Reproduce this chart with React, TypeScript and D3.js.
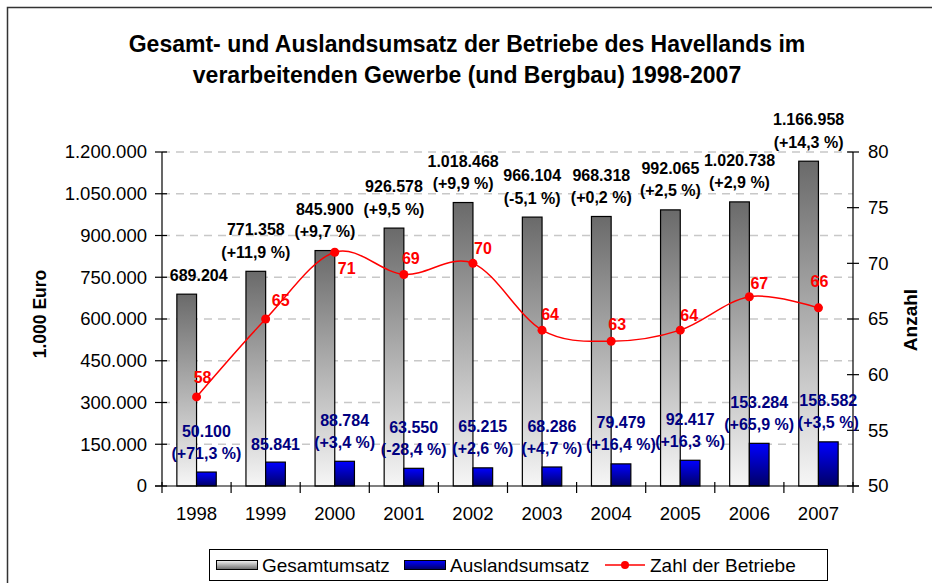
import React from 'react';
import * as d3 from 'd3';

const years = ['1998', '1999', '2000', '2001', '2002', '2003', '2004', '2005', '2006', '2007'];
const gesamtumsatz = [689204, 771358, 845900, 926578, 1018468, 966104, 968318, 992065, 1020738, 1166958];
const gesamtChange = ['', '(+11,9 %)', '(+9,7 %)', '(+9,5 %)', '(+9,9 %)', '(-5,1 %)', '(+0,2 %)', '(+2,5 %)', '(+2,9 %)', '(+14,3 %)'];
const auslandsumsatz = [50100, 85841, 88784, 63550, 65215, 68286, 79479, 92417, 153284, 158582];
const auslandChange = ['(+71,3 %)', '', '(+3,4 %)', '(-28,4 %)', '(+2,6 %)', '(+4,7 %)', '(+16,4 %)', '(+16,3 %)', '(+65,9 %)', '(+3,5 %)'];
const betriebe = [58, 65, 71, 69, 70, 64, 63, 64, 67, 66];
const leftTicks = [0, 150000, 300000, 450000, 600000, 750000, 900000, 1050000, 1200000];
const rightTicks = [50, 55, 60, 65, 70, 75, 80];
const titleLines = [
  'Gesamt- und Auslandsumsatz der Betriebe des Havellands im',
  'verarbeitenden Gewerbe (und Bergbau) 1998-2007',
];
const legendLabels = ['Gesamtumsatz', 'Auslandsumsatz', 'Zahl der Betriebe'];

// layout-only offsets for point labels (label centre relative to point)
const pointLabelOffsets: [number, number][] = [
  [6, -20], [15, -19], [12, 16], [7, -16], [10, -15], [8, -16], [6, -17], [9, -15], [10, -13], [1, -26],
];
const gesamtLabelShift = [12, 0, 0, 0, 0, 0, 0, 0, 0, 0];

const W = 932;
const H = 583;
const FONT = "'Liberation Sans', Arial, sans-serif";
const left = 162;
const right = 853;
const top = 152;
const bottom = 486;

const deLocale = d3.formatLocale({ decimal: ',', thousands: '.', grouping: [3], currency: ['', ' €'] });
const fmt = deLocale.format(',d');

export default function App() {
  const x = d3.scaleBand<string>().domain(years).range([left, right]).padding(0);
  const yL = d3.scaleLinear().domain([0, 1200000]).range([bottom, top]);
  const yR = d3.scaleLinear().domain([50, 80]).range([bottom, top]);
  const bw = x.bandwidth() * 0.285;
  const cx = (y: string) => (x(y) as number) + x.bandwidth() / 2;

  const line = d3
    .line<number>()
    .x((_, i) => cx(years[i]))
    .y((d) => yR(d))
    .curve(d3.curveCardinal.tension(0));

  return (
    <svg
      width={W}
      height={H}
      style={{ position: 'absolute', left: 0, top: 0, background: '#fff' }}
      fontFamily={FONT}
    >
      <defs>
        <linearGradient id="gGrey" x1="0" y1="0" x2="0" y2="1">
          <stop offset="0" stopColor="#6a6a6a" />
          <stop offset="1" stopColor="#f6f6f6" />
        </linearGradient>
        <linearGradient id="gBlue" x1="0" y1="0" x2="0" y2="1">
          <stop offset="0" stopColor="#0000ff" />
          <stop offset="1" stopColor="#000066" />
        </linearGradient>
        <linearGradient id="lgGrey" x1="0" y1="0" x2="0" y2="1">
          <stop offset="0" stopColor="#f6f6f6" />
          <stop offset="1" stopColor="#6a6a6a" />
        </linearGradient>
      </defs>
      <rect x={0} y={0} width={W} height={H} fill="#fff" />
      {/* frame */}
      <path d={`M7.5,${H} V7.5 H${W}`} fill="none" stroke="#333" strokeWidth={1.5} />

      {/* title */}
      {titleLines.map((t, i) => (
        <text key={t} x={467} y={52 + i * 31} textAnchor="middle" fontWeight="bold" fontSize={23} fill="#000">
          {t}
        </text>
      ))}

      {/* gridlines */}
      {leftTicks.slice(1).map((t) => (
        <line key={t} x1={left} x2={right} y1={yL(t)} y2={yL(t)} stroke="#c8c8c8" strokeWidth={1.5} strokeDasharray="8,6" />
      ))}

      {/* bars */}
      {years.map((yr, i) => (
        <g key={yr}>
          <rect
            x={cx(yr) - bw}
            y={yL(gesamtumsatz[i])}
            width={bw}
            height={bottom - yL(gesamtumsatz[i])}
            fill="url(#gGrey)"
            stroke="#000"
            strokeWidth={1.2}
          />
          <rect
            x={cx(yr)}
            y={yL(auslandsumsatz[i])}
            width={bw}
            height={bottom - yL(auslandsumsatz[i])}
            fill="url(#gBlue)"
            stroke="#000"
            strokeWidth={1.2}
          />
        </g>
      ))}

      {/* axes */}
      <line x1={left} x2={left} y1={top} y2={bottom} stroke="#000" strokeWidth={1.2} />
      <line x1={right} x2={right} y1={top} y2={bottom} stroke="#000" strokeWidth={1.2} />
      <line x1={left - 7} x2={right + 6} y1={bottom} y2={bottom} stroke="#000" strokeWidth={1.2} />
      {leftTicks.map((t) => (
        <g key={t}>
          <line x1={left - 7} x2={left + 5} y1={yL(t)} y2={yL(t)} stroke="#000" strokeWidth={1.2} />
          <text x={left - 15} y={yL(t)} dy="0.35em" textAnchor="end" fontSize={18.5} fill="#000">
            {fmt(t)}
          </text>
        </g>
      ))}
      {rightTicks.map((t) => (
        <g key={t}>
          <line x1={right - 6} x2={right + 6} y1={yR(t)} y2={yR(t)} stroke="#000" strokeWidth={1.2} />
          <text x={right + 15} y={yR(t)} dy="0.35em" textAnchor="start" fontSize={18.5} fill="#000">
            {t}
          </text>
        </g>
      ))}
      {years.map((yr) => (
        <line key={yr} x1={x(yr) as number} x2={x(yr) as number} y1={bottom - 4} y2={bottom + 7} stroke="#000" strokeWidth={1.2} />
      ))}
      <line x1={right} x2={right} y1={bottom - 4} y2={bottom + 7} stroke="#000" strokeWidth={1.2} />
      {years.map((yr) => (
        <text key={yr} x={cx(yr)} y={520} textAnchor="middle" fontSize={18.5} fill="#000">
          {yr}
        </text>
      ))}

      {/* axis titles */}
      <text transform="translate(40,314) rotate(-90)" textAnchor="middle" dy="0.35em" fontWeight="bold" fontSize={17.5} fill="#000">
        1.000 Euro
      </text>
      <text transform="translate(910,320) rotate(-90)" textAnchor="middle" dy="0.35em" fontWeight="bold" fontSize={19} fill="#000">
        Anzahl
      </text>

      {/* line */}
      <path d={line(betriebe) ?? ''} fill="none" stroke="#ff0000" strokeWidth={1.5} />
      {betriebe.map((v, i) => (
        <circle key={i} cx={cx(years[i])} cy={yR(v)} r={4.5} fill="#ff0000" />
      ))}
      {betriebe.map((v, i) => (
        <text
          key={i}
          x={cx(years[i]) + pointLabelOffsets[i][0]}
          y={yR(v) + pointLabelOffsets[i][1]}
          dy="0.35em"
          textAnchor="middle"
          fontWeight="bold"
          fontSize={16}
          fill="#ff0000"
        >
          {v}
        </text>
      ))}

      {/* grey bar labels */}
      {years.map((yr, i) => {
        const bx = cx(yr) - bw / 2 + gesamtLabelShift[i];
        const t = yL(gesamtumsatz[i]);
        const two = gesamtChange[i] !== '';
        return (
          <g key={yr} fontWeight="bold" fontSize={16} fill="#000" textAnchor="middle">
            <text x={bx} y={t - (two ? 41.5 : 19)} dy="0.35em">
              {fmt(gesamtumsatz[i])}
            </text>
            {two && (
              <text x={bx} y={t - 19} dy="0.35em">
                {gesamtChange[i]}
              </text>
            )}
          </g>
        );
      })}

      {/* blue bar labels */}
      {years.map((yr, i) => {
        const bx = cx(yr) + bw / 2;
        const t = yL(auslandsumsatz[i]);
        const two = auslandChange[i] !== '';
        return (
          <g key={yr} fontWeight="bold" fontSize={16} fill="#000080" textAnchor="middle">
            <text x={bx} y={t - (two ? 41 : 18)} dy="0.35em">
              {fmt(auslandsumsatz[i])}
            </text>
            {two && (
              <text x={bx} y={t - 19} dy="0.35em">
                {auslandChange[i]}
              </text>
            )}
          </g>
        );
      })}

      {/* legend */}
      <g>
        <rect x={209.5} y={549.5} width={618} height={31} fill="#fff" stroke="#000" strokeWidth={1} />
        <rect x={216.5} y={560.5} width={41} height={9} fill="url(#lgGrey)" stroke="#000" />
        <text x={262} y={571.5} fontSize={19} fill="#000">{legendLabels[0]}</text>
        <rect x={404.5} y={560.5} width={41} height={9} fill="url(#gBlue)" stroke="#000" />
        <text x={450} y={571.5} fontSize={19} fill="#000">{legendLabels[1]}</text>
        <line x1={605} x2={645} y1={565} y2={565} stroke="#ff0000" strokeWidth={1.5} />
        <circle cx={625} cy={565} r={4} fill="#ff0000" />
        <text x={650} y={571.5} fontSize={19} fill="#000">{legendLabels[2]}</text>
      </g>
    </svg>
  );
}
